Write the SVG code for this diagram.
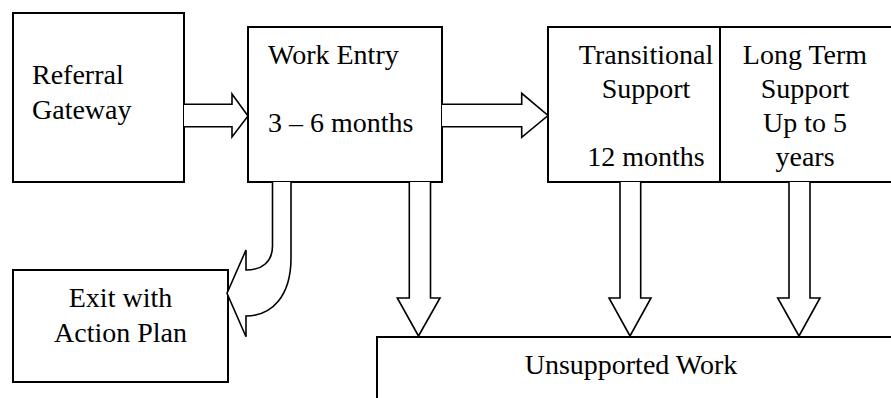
<svg xmlns="http://www.w3.org/2000/svg" width="891" height="398" viewBox="0 0 891 398">
<style>
.box{fill:#fff;stroke:#000;stroke-width:2}
.arr{fill:#fff;stroke:#000;stroke-width:1.6;stroke-linejoin:miter}
.t{font-family:'Liberation Serif','Times New Roman',Times,serif;font-size:28px;fill:#000}
.c{text-anchor:middle}
</style>
<rect width="891" height="398" fill="#fff"/>
<g id="referral">
<rect class="box" x="13" y="13" width="171" height="169"/>
<text class="t" x="32" y="83.5">Referral</text>
<text class="t" x="32" y="118.5">Gateway</text>
</g>
<g id="work-entry">
<rect class="box" x="248" y="27" width="194" height="155"/>
<text class="t" x="268" y="64">Work Entry</text>
<text class="t" x="268" y="132">3 – 6 months</text>
</g>
<g id="transitional">
<rect class="box" x="548" y="27" width="172" height="155"/>
<text class="t c" x="646" y="63.5">Transitional</text>
<text class="t c" x="646" y="98">Support</text>
<text class="t c" x="646" y="166">12 months</text>
</g>
<g id="long-term">
<rect class="box" x="720" y="27" width="190" height="155"/>
<text class="t c" x="805" y="63.5">Long Term</text>
<text class="t c" x="805" y="98">Support</text>
<text class="t c" x="805" y="132">Up to 5</text>
<text class="t c" x="805" y="166">years</text>
</g>
<g id="exit">
<rect class="box" x="13" y="270" width="215" height="112"/>
<text class="t c" x="120.5" y="306.5">Exit with</text>
<text class="t c" x="120.5" y="341.5">Action Plan</text>
</g>
<g id="unsupported">
<rect class="box" x="377" y="337" width="530" height="100"/>
<text class="t c" x="631" y="374">Unsupported Work</text>
</g>
<g id="connectors">
<path class="arr" d="M184,104.3 H232 V94 L248,116 L232,137 V126.7 H184"/>
<path class="arr" d="M442,104.3 H521.7 V93.3 L548,115.5 L521.7,137.3 V126.7 H442"/>
<path class="arr" d="M272.5,182 V246 C272.5,262 262,270 246,270 V250 L227,293.3 L246,336.7 V316 C272,316 291,296 291,258 V182"/>
<path class="arr" d="M409.3,182 V298 H397.3 L418.5,336 L440,298 H430.5 V182"/>
<path class="arr" d="M620,182 V298 H609 L630,336 L651,298 H640.7 V182"/>
<path class="arr" d="M789,182 V298 H777.7 L799,336 L820,298 H810 V182"/>
</g>
</svg>
